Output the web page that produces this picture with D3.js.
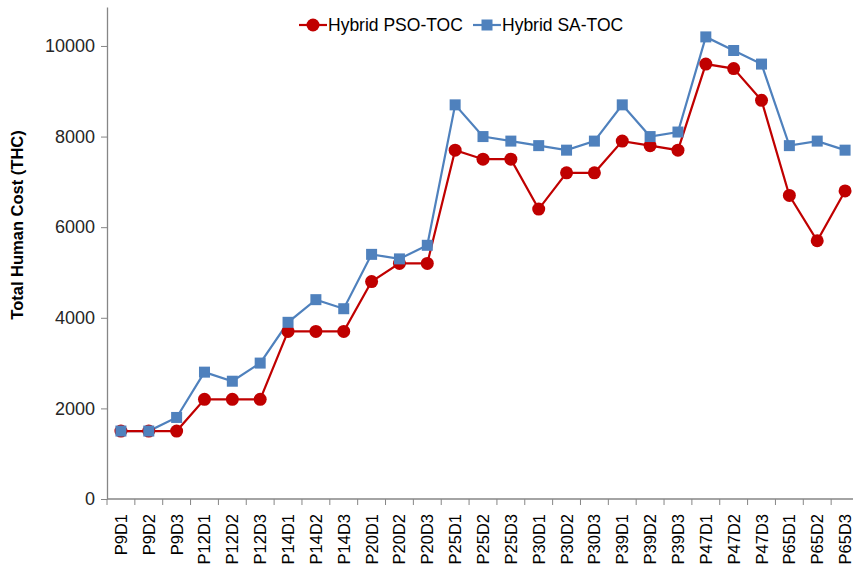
<!DOCTYPE html>
<html>
<head>
<meta charset="utf-8">
<script src="https://cdn.jsdelivr.net/npm/d3@7"></script>
<style>
  html, body { margin: 0; padding: 0; background: #fff; overflow: hidden; }
  svg { display: block; }
</style>
</head>
<body>
<svg id="chart" width="853" height="572"></svg>
<script>
const categories = ["P9D1","P9D2","P9D3","P12D1","P12D2","P12D3","P14D1","P14D2","P14D3",
  "P20D1","P20D2","P20D3","P25D1","P25D2","P25D3","P30D1","P30D2","P30D3",
  "P39D1","P39D2","P39D3","P47D1","P47D2","P47D3","P65D1","P65D2","P65D3"];
const psoValues = [1500,1500,1500,2200,2200,2200,3700,3700,3700,4800,5200,5200,7700,7500,7500,6400,7200,7200,7900,7800,7700,9600,9500,8800,6700,5700,6800];
const saValues  = [1500,1500,1800,2800,2600,3000,3900,4400,4200,5400,5300,5600,8700,8000,7900,7800,7700,7900,8700,8000,8100,10200,9900,9600,7800,7900,7700];
const yTicks = [0,2000,4000,6000,8000,10000];
const seriesNames = ["Hybrid PSO-TOC","Hybrid SA-TOC"];
const seriesColors = ["#C00000","#4F81BD"];

const svg = d3.select("#chart");
const mLeft = 107, mRight = 859, mTop = 7, mBottom = 499;
const font = "'Liberation Sans', Arial, sans-serif";

const x = d3.scaleBand().domain(categories).range([mLeft, mRight]).padding(0);
const y = d3.scaleLinear().domain([0, 10860]).range([mBottom, mTop]);

// Y axis
const yAxis = d3.axisLeft(y).tickValues(yTicks).tickSize(6).tickSizeOuter(0).tickPadding(6).tickFormat(d3.format("d"));
const gy = svg.append("g").attr("transform", `translate(${mLeft},0)`).call(yAxis);
gy.select(".domain").attr("stroke", "#868686").attr("stroke-width", 1.3);
gy.selectAll(".tick line").attr("stroke", "#868686");
gy.selectAll(".tick text").attr("font-family", font).attr("font-size", "18px").attr("fill", "#262626");

// X axis with ticks at category boundaries
const gx = svg.append("g").attr("transform", `translate(0,${mBottom})`);
gx.append("line").attr("x1", mLeft).attr("x2", mRight).attr("y1", 0).attr("y2", 0)
  .attr("stroke", "#868686").attr("stroke-width", 1.3);
const bounds = categories.map(c => x(c)).concat([x(categories[categories.length-1]) + x.bandwidth()]);
gx.selectAll("line.tk").data(bounds).enter().append("line").attr("class","tk")
  .attr("x1", d => d).attr("x2", d => d).attr("y1", 0).attr("y2", 6)
  .attr("stroke", "#868686");
gx.selectAll("text.lbl").data(categories).enter().append("text").attr("class","lbl")
  .attr("transform", d => `translate(${x(d) + x.bandwidth()/2 + 6},${15}) rotate(-90)`)
  .attr("text-anchor", "end")
  .attr("font-family", font).attr("font-size", "16.5px").attr("fill", "#000")
  .text(d => d);

// Y title
svg.append("text")
  .attr("transform", `translate(23,225) rotate(-90)`)
  .attr("text-anchor", "middle")
  .attr("font-family", font).attr("font-weight", "bold").attr("font-size", "16.5px").attr("fill", "#000")
  .text("Total Human Cost (THC)");

const cx = d => x(d) + x.bandwidth()/2;
const line = d3.line().x(d => cx(d.c)).y(d => y(d.v));

const dataPSO = categories.map((c,i) => ({c, v: psoValues[i]}));
const dataSA = categories.map((c,i) => ({c, v: saValues[i]}));

svg.append("path").datum(dataSA).attr("d", line).attr("fill", "none")
  .attr("stroke", seriesColors[1]).attr("stroke-width", 2.2);
svg.append("path").datum(dataPSO).attr("d", line).attr("fill", "none")
  .attr("stroke", seriesColors[0]).attr("stroke-width", 2.2);
svg.selectAll("circle.pso").data(dataPSO).enter().append("circle").attr("class","pso")
  .attr("cx", d => cx(d.c)).attr("cy", d => y(d.v)).attr("r", 6.5)
  .attr("fill", seriesColors[0]);
svg.selectAll("rect.sa").data(dataSA).enter().append("rect").attr("class","sa")
  .attr("x", d => cx(d.c) - 5.5).attr("y", d => y(d.v) - 5.5).attr("width", 11).attr("height", 11)
  .attr("fill", seriesColors[1]);

// Legend
const lg = svg.append("g");
const legendItems = [
  {name: seriesNames[0], color: seriesColors[0], x0: 299, shape: "circle"},
  {name: seriesNames[1], color: seriesColors[1], x0: 473, shape: "rect"}
];
const ly = 25;
legendItems.forEach(it => {
  lg.append("line").attr("x1", it.x0).attr("x2", it.x0 + 28).attr("y1", ly).attr("y2", ly)
    .attr("stroke", it.color).attr("stroke-width", 2.2);
  if (it.shape === "circle") {
    lg.append("circle").attr("cx", it.x0 + 14).attr("cy", ly).attr("r", 6.5).attr("fill", it.color);
  } else {
    lg.append("rect").attr("x", it.x0 + 14 - 5.5).attr("y", ly - 5.5).attr("width", 11).attr("height", 11).attr("fill", it.color);
  }
  lg.append("text").attr("x", it.x0 + 29).attr("y", ly + 6)
    .attr("font-family", font).attr("font-size", "17.5px").attr("fill", "#000")
    .text(it.name);
});
</script>
</body>
</html>
